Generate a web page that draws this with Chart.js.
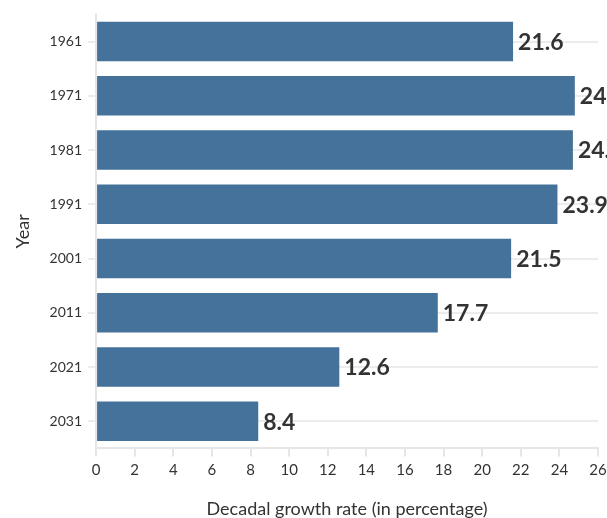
<!DOCTYPE html>
<html>
<head>
<meta charset="utf-8">
<script src="https://cdn.jsdelivr.net/npm/chart.js@4"></script>
<style>
  html, body { margin: 0; padding: 0; background: #fff; overflow: hidden; }
  #wrap { width: 607px; height: 518px; }
</style>
</head>
<body>
<div id="wrap"><canvas id="chart-growth"></canvas></div>
<script>
const years = ['1961', '1971', '1981', '1991', '2001', '2011', '2021', '2031'];
const growthRates = [21.6, 24.8, 24.7, 23.9, 21.5, 17.7, 12.6, 8.4];
const xTicks = [0, 2, 4, 6, 8, 10, 12, 14, 16, 18, 20, 22, 24, 26];

const FONT = 'Lato, "Noto Sans", sans-serif';

// value labels drawn just past the end of each bar
const barValueLabels = {
    id: 'barValueLabels',
    afterDatasetsDraw(chart) {
        const ctx = chart.ctx;
        const meta = chart.getDatasetMeta(0);
        ctx.save();
        ctx.font = 'bold 23px ' + FONT;
        ctx.fillStyle = '#333333';
        ctx.textAlign = 'left';
        ctx.textBaseline = 'middle';
        meta.data.forEach((bar, i) => {
            ctx.fillText(growthRates[i].toFixed(1), bar.x + 5, bar.y + 1);
        });
        ctx.restore();
    }
};

new Chart(document.getElementById('chart-growth'), {
    type: 'bar',
    data: {
        labels: years,
        datasets: [{
            label: 'Decadal growth rate',
            data: growthRates,
            backgroundColor: '#45729b',
            barPercentage: 0.73,
            categoryPercentage: 1.0
        }]
    },
    options: {
        indexAxis: 'y',
        responsive: true,
        maintainAspectRatio: false,
        animation: false,
        layout: {
            padding: { top: 12, right: 0, bottom: -2, left: 12 }
        },
        plugins: {
            legend: { display: false },
            tooltip: { enabled: false }
        },
        scales: {
            x: {
                min: 0,
                max: 26,
                afterBuildTicks: axis => {
                    axis.ticks = xTicks.map(v => ({ value: v }));
                },
                // let the axis run closer to the right edge
                afterFit: axis => {
                    axis.paddingRight = 9;
                },
                grid: {
                    display: true,
                    drawOnChartArea: false,
                    drawTicks: true,
                    tickLength: 8,
                    color: '#e6e6e6',
                    lineWidth: 2
                },
                border: { color: '#e6e6e6', width: 2 },
                ticks: {
                    color: '#333333',
                    font: { family: FONT, size: 15 },
                    padding: 5,
                    maxRotation: 0
                },
                title: {
                    display: true,
                    text: 'Decadal growth rate (in percentage)',
                    color: '#333333',
                    font: { family: FONT, size: 18 },
                    padding: { top: 14, bottom: 0 }
                }
            },
            y: {
                grid: {
                    display: true,
                    drawOnChartArea: true,
                    drawTicks: true,
                    tickLength: 8,
                    color: '#ececec',
                    lineWidth: 2,
                    offset: false
                },
                border: { color: '#e6e6e6', width: 2 },
                ticks: {
                    color: '#333333',
                    font: { family: FONT, size: 14 },
                    padding: 6
                },
                title: {
                    display: true,
                    text: 'Year',
                    color: '#333333',
                    font: { family: FONT, size: 18 },
                    padding: { top: 0, bottom: 10 }
                }
            }
        }
    },
    plugins: [barValueLabels]
});
</script>
</body>
</html>
